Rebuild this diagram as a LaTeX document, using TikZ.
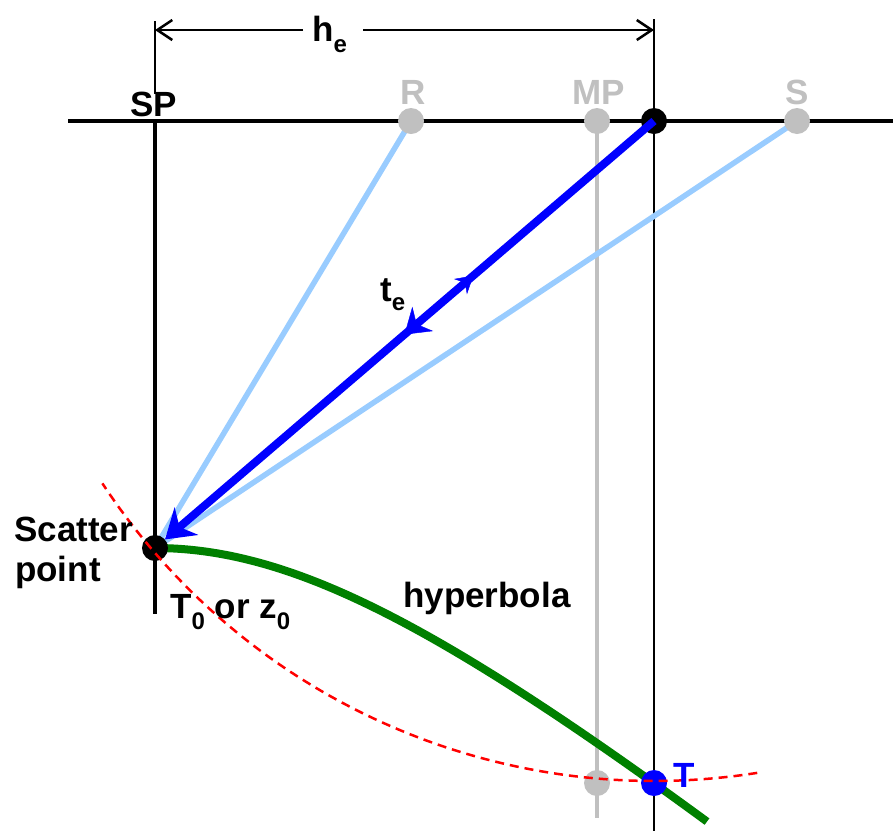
\documentclass[tikz,border=0pt]{standalone}
\usepackage{fontspec}
\setmainfont{Liberation Sans}
\usetikzlibrary{arrows.meta,decorations.markings}
\definecolor{lblue}{HTML}{99CCFF}
\definecolor{lgray}{HTML}{C0C0C0}
\definecolor{dgreen}{HTML}{008000}
\newcommand{\mysub}[2][10pt]{\raisebox{-#1}{\fontsize{24}{24}\selectfont #2}}
\begin{document}
\begin{tikzpicture}[x=1pt,y=-1pt,
  lab/.style={font=\fontsize{35}{40}\selectfont\bfseries, inner sep=0pt, anchor=base west},
  dotn/.style={circle, inner sep=0pt, minimum size=26pt},
  blk/.style={line width=3.5pt, black},
  dimline/.style={line width=2.5pt, black, -{Straight Barb[length=15pt,width=20pt]}},
  ray/.style={line width=5.5pt, lblue},
  mainray/.style={line width=8pt, blue, -{Stealth[length=28pt,width=36pt,inset=9pt]}},
  isochron/.style={line width=2.5pt, red, dash pattern=on 9pt off 6pt},
  hyp/.style={line width=8pt, dgreen}]
\useasboundingbox (0,0) rectangle (893,831);
% coordinates
\coordinate (hl) at (68,121);
\coordinate (hr) at (893,121);
\coordinate (spTop) at (155,121);
\coordinate (spBot) at (155,614);
\coordinate (extLtop) at (155,21);
\coordinate (extLbot) at (155,94);
\coordinate (vTop) at (654,19);
\coordinate (vBot) at (654,831);
\coordinate (mpTop) at (597,121);
\coordinate (mpBot) at (597,818);
\coordinate (dl) at (155,30);
\coordinate (dr) at (654,30);
\coordinate (gl) at (303,30);
\coordinate (gr) at (363,30);
% base lines
\draw[blk] (hl) -- (hr);
\draw[blk] (spTop) -- (spBot);
\draw[line width=2.5pt] (extLtop) -- (extLbot);
\draw[line width=2.5pt] (vTop) -- (vBot);
\draw[line width=3.5pt, lgray] (mpTop) -- (mpBot);
\draw[dimline] (gl) -- (dl);
\draw[dimline] (gr) -- (dr);
% nodes (dots)
\node[dotn] (scat) at (155,548) {};
\node[dotn] (rdot) at (411,121) {};
\node[dotn] (sdot) at (797,121) {};
\node[dotn] (bdot) at (654,121) {};
% rays
\draw[ray] (rdot.center) -- (scat.center);
\draw[ray] (sdot.center) -- (scat.center);
% hyperbola
\draw[hyp] plot[domain=0:552, samples=80] ({155+\x},{548+250*(sqrt(1+(\x/300)^2)-1)});
% dots drawn
\node[dotn, fill=lgray] (rdotf) at (rdot) {};
\node[dotn, fill=lgray] (sdotf) at (sdot) {};
\node[dotn, fill=lgray] (mpdot) at (597,121) {};
\node[dotn, fill=lgray] (mpbdot) at (597,783) {};
\node[dotn, fill=blue] (tdot) at (654,783) {};
\node[dotn, fill=black] (bdotf) at (bdot) {};
\node[dotn, fill=black] (scatf) at (scat) {};
% main ray
\draw[mainray] (bdot.center) -- (scat);
\path[decorate, decoration={markings,
   mark=at position 0.362 with {\arrowreversed[blue]{Stealth[length=17pt,width=20pt,inset=6pt]}},
   mark=at position 0.50 with {\arrow[blue]{Stealth[length=24pt,width=32pt,inset=8pt]}}}]
   (bdot.center) -- (scat.center);
% isochron
\draw[isochron] plot[domain=81:146.7, samples=100] ({654+660*cos(\x)},{121+660*sin(\x)});
% labels
\node[lab] (he) at (312,41) {h\mysub[11pt]{e}};
\node[lab] (splab) at (130,116) {SP};
\node[lab, text=lgray] (rlab) at (400,104) {R};
\node[lab, text=lgray] (mplab) at (572,104) {MP};
\node[lab, text=lgray] (slab) at (785,104) {S};
\node[lab] (te) at (380,301) {t\mysub[9pt]{e}};
\node[lab] (scatlab1) at (14,541) {Scatter};
\node[lab] (scatlab2) at (15,581) {point};
\node[lab] (t0lab) at (170,618) {T\mysub[11pt]{0} or z\mysub[11pt]{0}};
\node[lab] (hyplab) at (403,607) {hyperbola};
\node[lab, text=blue] (tlab) at (673,787) {T};
\end{tikzpicture}
\end{document}
